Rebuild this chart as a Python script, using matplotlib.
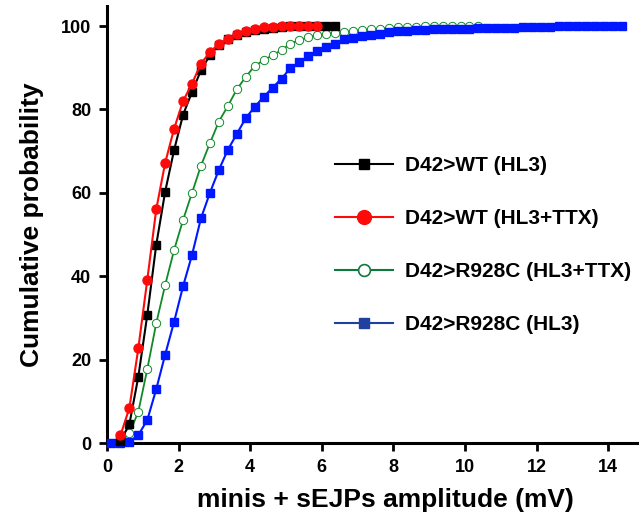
import numpy as np
import matplotlib
matplotlib.use("Agg")
from matplotlib import pyplot as plt
from matplotlib.lines import Line2D

# bin centres (mV) shared by all cumulative curves, 0.25 mV bins
bins = np.arange(0.125, 14.5, 0.25)

# cumulative probability (%) per bin
wt_hl3 = [None, 0.5, 4.5, 15.9, 30.7, 47.5, 60.3, 70.3, 78.7, 84.2, 89.4, 93.0,
          95.5, 96.8, 97.9, 98.6, 99.1, 99.4, 99.6, 99.8, 99.9, 99.9, 100.0,
          100.0, 100.0, 100.0]
wt_ttx = [None, 1.8, 8.4, 22.7, 39.1, 56.0, 67.2, 75.4, 82.0, 86.2, 91.0, 93.7,
          95.8, 96.8, 98.0, 98.9, 99.3, 99.7, 99.8, 99.9, 100.0, 100.0, 100.0,
          100.0]
r928c_ttx = [None, 0.3, 2.3, 7.5, 17.7, 28.7, 37.9, 46.3, 53.5, 60.0, 66.5, 71.9,
             77.1, 80.8, 84.8, 87.8, 90.4, 91.8, 93.0, 94.2, 95.8, 96.6, 97.3,
             97.8, 98.1, 98.4, 98.6, 98.8, 99.0, 99.2, 99.4, 99.6, 99.7, 99.8,
             99.8, 99.9, 99.9, 99.9, 100.0, 100.0, 100.0, 100.0]
r928c_hl3 = [0.0, 0.0, 0.3, 1.9, 5.5, 12.9, 21.2, 29.1, 37.6, 45.1, 53.9, 60.0,
             65.5, 70.3, 74.1, 77.9, 80.6, 83.0, 85.2, 87.4, 89.9, 91.3, 92.8,
             94.1, 95.0, 95.8, 96.8, 97.2, 97.6, 97.8, 98.2, 98.5, 98.7, 98.9,
             99.0, 99.0, 99.2, 99.3, 99.3, 99.4, 99.4, 99.5, 99.5, 99.5, 99.6,
             99.6, 99.8, 99.8, 99.8, 99.8, 99.9, 99.9, 99.9, 99.9, 99.9, 99.9,
             99.9, 99.9]

labels = ["D42>WT (HL3)", "D42>WT (HL3+TTX)", "D42>R928C (HL3+TTX)", "D42>R928C (HL3)"]
x_ticks = [0, 2, 4, 6, 8, 10, 12, 14]
y_ticks = [0, 20, 40, 60, 80, 100]

plt.rcParams["font.family"] = ["Liberation Sans", "DejaVu Sans"]
plt.rcParams["font.weight"] = "bold"


def series(vals):
    v = np.array(vals, dtype=float)
    return bins[:len(v)], v


fig = plt.figure(figsize=(6.39, 5.18), dpi=100)
ax = fig.add_axes([107 / 639, 75 / 518, 532 / 639, 437 / 518])

GREEN = "#108a28"
BLUE = "#0018ff"
RED = "#ff0a0a"

ax.plot(*series(r928c_ttx), color=GREEN, lw=1.3, marker="o", ms=6,
        mfc="white", mec=GREEN, mew=0.7, clip_on=False, zorder=3)
ax.plot(*series(r928c_hl3), color=BLUE, lw=1.5, marker="s", ms=5.5,
        mfc=BLUE, mec=BLUE, clip_on=False, zorder=4)
ax.plot(*series(wt_hl3), color="black", lw=1.5, marker="s", ms=5.2,
        clip_on=False, zorder=5)
ax.plot(*series(wt_ttx), color=RED, lw=1.5, marker="o", ms=6.5,
        mfc=RED, mec=RED, clip_on=False, zorder=6)

ax.set_xlim(0, 14.86)
ax.set_ylim(0, 104.8)
ax.set_xticks(x_ticks)
ax.set_yticks(y_ticks)
ax.spines[["right", "top"]].set_visible(False)
for s in ("left", "bottom"):
    ax.spines[s].set_linewidth(2.2)
ax.tick_params(direction="out", length=5.5, width=2.0, labelsize=13, pad=6)
for lab in ax.get_xticklabels() + ax.get_yticklabels():
    lab.set_fontweight("bold")

ax.set_xlabel("minis + sEJPs amplitude (mV)", fontsize=19, fontweight="bold")
ax.xaxis.set_label_coords(0.524, -0.102)
ax.set_ylabel("Cumulative probability", fontsize=19, fontweight="bold", labelpad=12)

handles = [
    Line2D([], [], color="black", lw=1.5, marker="s", ms=7),
    Line2D([], [], color=RED, lw=1.5, marker="o", ms=10),
    Line2D([], [], color="#0b7a3c", lw=1.5, marker="o", ms=8.5, mfc="white", mew=1.2),
    Line2D([], [], color="#2040a0", lw=1.5, marker="s", ms=7, mfc="#2040a0"),
]
ax.legend(handles, labels, loc="upper left", bbox_to_anchor=(335 / 639, 1 - 156 / 518),
          bbox_transform=fig.transFigure, frameon=False, borderpad=0, borderaxespad=0,
          handlelength=2.8, handletextpad=0.55, labelspacing=1.63,
          prop={"weight": "bold", "size": 15})

fig.savefig("out.png", dpi=100)
